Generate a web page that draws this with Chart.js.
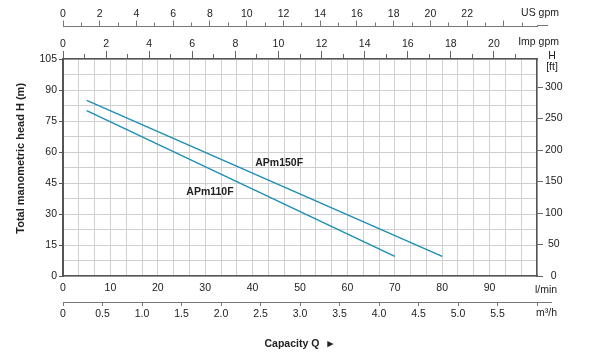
<!DOCTYPE html>
<html>
<head>
<meta charset="utf-8">
<script src="https://cdn.jsdelivr.net/npm/chart.js@4.4.0/dist/chart.umd.min.js"></script>
<style>
  html, body { margin: 0; padding: 0; background: #fff; }
</style>
</head>
<body>
<canvas id="pumpChart" width="600" height="352"></canvas>
<script>
// Pump curves: capacity in l/min, head in m
const flowAPm150F = [5, 80];
const headAPm150F = [85, 9.5];
const flowAPm110F = [5, 70];
const headAPm110F = [80, 9.5];

const curveNames = ['APm150F', 'APm110F'];
const curveLabelAt = [[45.6, 54.8], [31, 40.6]]; // [l/min, m]

// axis ticks
const lpmTicks = [0, 10, 20, 30, 40, 50, 60, 70, 80, 90];
const m3hTicks = [0, 0.5, 1, 1.5, 2, 2.5, 3, 3.5, 4, 4.5, 5, 5.5, 6];
const m3hLabels = ['0', '0.5', '1.0', '1.5', '2.0', '2.5', '3.0', '3.5', '4.0', '4.5', '5.0', '5.5', ''];
const usGpmTicks = [0, 1, 2, 3, 4, 5, 6, 7, 8, 9, 10, 11, 12, 13, 14, 15, 16, 17, 18, 19, 20, 21, 22, 23, 24, 25];
const usGpmLabels = [0, 2, 4, 6, 8, 10, 12, 14, 16, 18, 20, 22];
const impGpmTicks = [0, 1, 2, 3, 4, 5, 6, 7, 8, 9, 10, 11, 12, 13, 14, 15, 16, 17, 18, 19, 20, 21];
const impGpmLabels = [0, 2, 4, 6, 8, 10, 12, 14, 16, 18, 20];
const headTicks = [0, 15, 30, 45, 60, 75, 90, 105];
const ftTicks = [0, 50, 100, 150, 200, 250, 300];

const usGpmMax = 25.8;
const ftMax = 105 * 3.28084;

const fontFamily = '"Liberation Sans", Arial, Helvetica, sans-serif';
const textColor = '#222';
const axisColor = '#555';
const gridColor = '#d0d0d0';
const curveColor = '#1f8fb3';

// grid every 0.2 m3/h and every 7.5 m
const gridLpm = [];
for (let k = 0; k <= 30; k++) gridLpm.push(k * 10 / 3);
const gridHead = [];
for (let k = 0; k <= 14; k++) gridHead.push(k * 15 / 2);

function setTicks(values) {
    return scale => { scale.ticks = values.map(v => ({ value: v })); };
}
function fixWidth(w) {
    return scale => { scale.width = w; };
}
function fixHeight(h) {
    return scale => { scale.height = h; };
}
function isEven(ctx) {
    return ctx.tick ? ctx.tick.value % 2 === 0 : true;
}

const unitLabels = {
    id: 'unitLabels',
    afterDraw(chart) {
        const { ctx, scales } = chart;
        const { x, y, us, imp, m3h, ft } = scales;
        ctx.save();

        // stretch the outer axis lines a little past the plot
        ctx.strokeStyle = '#777';
        ctx.lineWidth = 1;
        ctx.beginPath();
        ctx.moveTo(us.right, us.bottom - 0.5);
        ctx.lineTo(us.right + 11, us.bottom - 0.5);
        ctx.moveTo(m3h.right, m3h.top + 0.5);
        ctx.lineTo(m3h.right + 15, m3h.top + 0.5);
        ctx.stroke();

        ctx.fillStyle = textColor;
        ctx.textBaseline = 'middle';
        ctx.font = '10.5px ' + fontFamily;
        ctx.textAlign = 'left';
        ctx.fillText('l/min', x.right - 2, x.top + 14);
        ctx.fillText('m³/h', m3h.right - 1, m3h.top + 11.5);
        ctx.textAlign = 'right';
        ctx.fillText('US gpm', us.right + 22, us.bottom - 12.5);
        ctx.fillText('Imp gpm', imp.right + 22, imp.bottom - 16.5);
        ctx.textAlign = 'center';
        ctx.fillText('H', ft.left + 15, ft.top - 3);
        ctx.fillText('[ft]', ft.left + 15, ft.top + 8);

        ctx.font = 'bold 10.5px ' + fontFamily;
        curveNames.forEach((name, i) => {
            ctx.fillText(name, x.getPixelForValue(curveLabelAt[i][0]), y.getPixelForValue(curveLabelAt[i][1]));
        });
        ctx.restore();
    }
};

Chart.defaults.font.family = fontFamily;
Chart.defaults.font.size = 10.5;
Chart.defaults.color = textColor;

new Chart(document.getElementById('pumpChart'), {
    type: 'line',
    data: {
        datasets: [
            {
                label: 'APm150F',
                data: flowAPm150F.map((q, i) => ({ x: q, y: headAPm150F[i] })),
                borderColor: curveColor,
                borderWidth: 1.5,
                pointRadius: 0,
                fill: false
            },
            {
                label: 'APm110F',
                data: flowAPm110F.map((q, i) => ({ x: q, y: headAPm110F[i] })),
                borderColor: curveColor,
                borderWidth: 1.5,
                pointRadius: 0,
                fill: false
            }
        ]
    },
    options: {
        responsive: false,
        animation: false,
        layout: { padding: 0, autoPadding: false },
        plugins: {
            legend: { display: false },
            tooltip: { enabled: false }
        },
        scales: {
            x: {
                type: 'linear',
                position: 'bottom',
                weight: 1,
                min: 0,
                max: 100,
                afterBuildTicks: setTicks(gridLpm),
                afterFit: fixHeight(26),
                grid: { color: gridColor, lineWidth: 1, drawTicks: false },
                border: { color: axisColor, width: 1.5 },
                ticks: {
                    autoSkip: false,
                    maxRotation: 0,
                    padding: 6,
                    callback: v => lpmTicks.includes(v) ? String(v) : ''
                }
            },
            m3h: {
                type: 'linear',
                position: 'bottom',
                weight: 2,
                min: 0,
                max: 6,
                afterBuildTicks: setTicks(m3hTicks),
                afterFit: fixHeight(50),
                grid: { drawOnChartArea: false, tickLength: 4, tickColor: '#777' },
                border: { color: '#777', width: 1 },
                ticks: {
                    autoSkip: false,
                    maxRotation: 0,
                    padding: 1.5,
                    callback: (v, i) => m3hLabels[i]
                },
                title: {
                    display: true,
                    text: 'Capacity Q  ►',
                    font: { size: 10.5, weight: 'bold' },
                    padding: { top: 0, bottom: 2 }
                }
            },
            y: {
                type: 'linear',
                position: 'left',
                min: 0,
                max: 105,
                afterBuildTicks: setTicks(gridHead),
                afterFit: fixWidth(63),
                grid: {
                    color: gridColor,
                    lineWidth: 1,
                    tickLength: 4,
                    tickColor: ctx => (ctx.tick && headTicks.includes(ctx.tick.value)) ? axisColor : 'rgba(0,0,0,0)'
                },
                border: { color: axisColor, width: 2 },
                ticks: {
                    autoSkip: false,
                    padding: 2,
                    callback: v => headTicks.includes(v) ? String(v) : ''
                },
                title: {
                    display: true,
                    // leading spaces nudge the centred title upwards
                    text: '      Total manometric head H (m)',
                    font: { size: 11, weight: 'bold' },
                    padding: { top: 14, bottom: 0 }
                }
            },
            ft: {
                type: 'linear',
                position: 'right',
                min: 0,
                max: ftMax,
                afterBuildTicks: setTicks(ftTicks),
                afterFit: fixWidth(63),
                grid: { drawOnChartArea: false, tickLength: 6, tickColor: '#666' },
                border: { color: axisColor, width: 1.5 },
                ticks: { autoSkip: false, padding: 2, crossAlign: 'center' }
            },
            imp: {
                type: 'linear',
                position: 'top',
                weight: 1,
                min: 0,
                max: 22,
                afterBuildTicks: setTicks(impGpmTicks),
                afterFit: fixHeight(33),
                grid: {
                    drawOnChartArea: false,
                    tickLength: 8,
                    tickColor: '#666',
                    tickBorderDash: ctx => isEven(ctx) ? [] : [5, 3],
                    tickBorderDashOffset: ctx => isEven(ctx) ? 0 : 5
                },
                border: { color: axisColor, width: 1.5 },
                ticks: {
                    autoSkip: false,
                    maxRotation: 0,
                    padding: 1,
                    callback: v => impGpmLabels.includes(v) ? String(v) : ''
                }
            },
            us: {
                type: 'linear',
                position: 'top',
                weight: 2,
                min: 0,
                max: usGpmMax,
                afterBuildTicks: setTicks(usGpmTicks),
                afterFit: fixHeight(26),
                grid: {
                    drawOnChartArea: false,
                    tickLength: 5.5,
                    tickColor: '#777',
                    tickBorderDash: ctx => isEven(ctx) ? [] : [3.5, 2],
                    tickBorderDashOffset: ctx => isEven(ctx) ? 0 : 3.5
                },
                border: { color: '#777', width: 1 },
                ticks: {
                    autoSkip: false,
                    maxRotation: 0,
                    padding: 0,
                    callback: v => usGpmLabels.includes(v) ? String(v) : ''
                }
            }
        }
    },
    plugins: [unitLabels]
});
</script>
</body>
</html>
